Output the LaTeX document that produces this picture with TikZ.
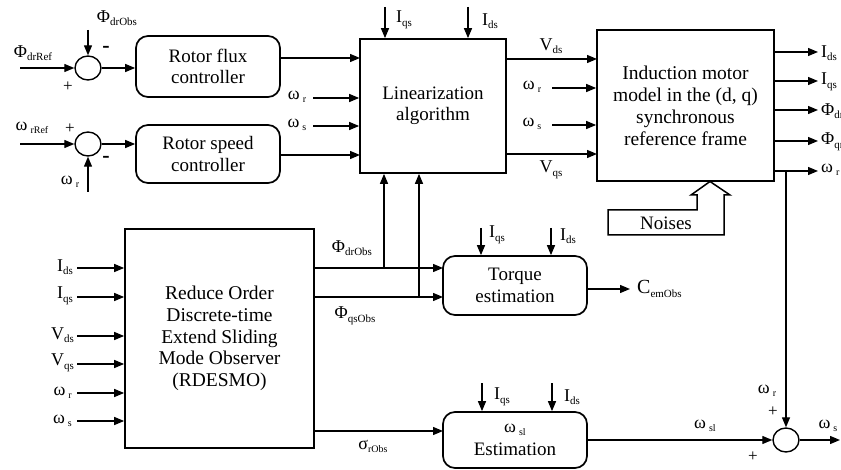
\documentclass[tikz,border=0pt]{standalone}
\usepackage{fontspec}
\setmainfont{Liberation Serif}
\usetikzlibrary{arrows.meta,shapes.geometric}
\newcommand{\sbx}[2]{#1\raisebox{-3.5pt}{\fontsize{11}{11}\selectfont #2}}
\newcommand{\om}[1]{{\fontsize{18}{18}\selectfont ω\,\raisebox{-3pt}{\fontsize{10}{10}\selectfont #1}}}
\begin{document}
\begin{tikzpicture}[x=1pt,y=-1pt,
  box/.style={draw, line width=1.7pt, align=center, inner sep=0pt, font=\fontsize{19}{21.5}\selectfont},
  rbox/.style={box, rounded corners=12pt},
  sumc/.style={draw, ellipse, line width=1.4pt, minimum width=26pt, minimum height=24pt, inner sep=0pt},
  arr/.style={line width=1.3pt, -{Triangle[length=10pt,width=8pt]}},
  wire/.style={line width=1.3pt},
  lab/.style={inner sep=0pt, font=\fontsize{18}{18}\selectfont},
  sgn/.style={inner sep=0pt, font=\fontsize{17}{17}\selectfont},
  mns/.style={inner sep=0pt, font=\fontsize{22}{22}\selectfont\bfseries}]
\clip (0,0) rectangle (841,470);

% ---------- blocks ----------
\node[sumc] (s1) at (88,68) {};
\node[sumc] (s2) at (88,144) {};
\node[sumc] (s3) at (786,440) {};
\node[rbox, minimum width=144pt, minimum height=61pt] (flux) at (208,66.5) {Rotor flux\\controller};
\node[rbox, minimum width=144pt, minimum height=58pt] (speed) at (208,154) {Rotor speed\\controller};
\node[box, minimum width=146pt, minimum height=134pt] (lin) at (433,106) {Linearization\\algorithm};
\node[box, minimum width=177pt, minimum height=151pt, font=\fontsize{19.5}{22}\selectfont] (mot) at (685.5,105.5)
  {Induction motor\\model in the (d, q)\\synchronous\\reference frame};
\node[box, minimum width=189pt, minimum height=219pt, font=\fontsize{19.5}{21.7}\selectfont] (rd) at (219.5,338.5)
  {Reduce Order\\Discrete-time\\Extend Sliding\\Mode Observer\\(RDESMO)};
\node[rbox, minimum width=144pt, minimum height=59pt] (tq) at (515,285.5) {Torque\\estimation};
\node[rbox, minimum width=144pt, minimum height=56pt] (wb) at (515,440) {\om{sl}\\[1pt]Estimation};

% Noises block arrow
\draw[line width=1.5pt, line join=miter] (608,235) -- (608,210) -- (697,210) -- (697,195) -- (691,195)
  -- (710,181.5) -- (730,195) -- (724,195) -- (724,235) -- cycle;
\node[inner sep=0pt, font=\fontsize{19}{19}\selectfont] (noise) at (666,223) {Noises};

% ---------- left summing junctions ----------
\coordinate (a1) at (20,68);
\coordinate (a2) at (88,30);
\draw[arr] (a1) -- (s1.west);
\draw[arr] (a2) -- (s1.north);
\draw[arr] (s1.east) -- (s1.east -| flux.west);
\coordinate (b1) at (20,144);
\coordinate (b2) at (88,192);
\draw[arr] (b1) -- (s2.west);
\draw[arr] (b2) -- (s2.south);
\draw[arr] (s2.east) -- (s2.east -| speed.west);

\node[lab] (lPdrRef) at (33,53) {\sbx{Φ}{drRef}};
\node[lab] (lPdrObsT) at (117,18) {\sbx{Φ}{drObs}};
\node[mns] (m1) at (106,49) {-};
\node[sgn] (p1) at (68,87) {+};
\node[lab] (lwrRef) at (32,128) {\om{rRef}};
\node[sgn] (p2) at (70,129) {+};
\node[mns] (m2) at (106,159) {-};
\node[lab] (lwrB) at (70,182) {\om{r}};

% ---------- into linearization ----------
\coordinate (L1) at (360,58);
\coordinate (L4) at (360,155);
\draw[arr] (flux.east |- L1) -- (L1);
\draw[arr] (speed.east |- L4) -- (L4);
\coordinate (L2s) at (313,98);
\coordinate (L3s) at (313,126);
\draw[arr] (L2s) -- (L2s -| lin.west);
\draw[arr] (L3s) -- (L3s -| lin.west);
\node[lab] (lwrL) at (297,97) {\om{r}};
\node[lab] (lwsL) at (297,125) {\om{s}};
\coordinate (t1) at (385,7);
\coordinate (t2) at (468,7);
\draw[arr] (t1) -- (t1 |- lin.north);
\draw[arr] (t2) -- (t2 |- lin.north);
\node[lab] (lIqsT) at (404,20) {\sbx{I}{qs}};
\node[lab] (lIdsT) at (490,21) {\sbx{I}{ds}};

% ---------- into motor ----------
\coordinate (M1) at (597,59);
\coordinate (M4) at (597,154);
\draw[arr] (lin.east |- M1) -- (M1);
\draw[arr] (lin.east |- M4) -- (M4);
\coordinate (M2s) at (552,88);
\coordinate (M3s) at (552,125);
\draw[arr] (M2s) -- (M2s -| mot.west);
\draw[arr] (M3s) -- (M3s -| mot.west);
\node[lab] (lVds) at (551,46) {\sbx{V}{ds}};
\node[lab] (lVqs) at (551,170) {\sbx{V}{qs}};
\node[lab] (lwrM) at (532,87) {\om{r}};
\node[lab] (lwsM) at (532,124) {\om{s}};

% ---------- motor outputs ----------
\coordinate (o1) at (818,52);
\coordinate (o2) at (818,81);
\coordinate (o3) at (818,110);
\coordinate (o4) at (818,141);
\coordinate (o5) at (818,171);
\foreach \o in {o1,o2,o3,o4,o5} \draw[arr] (mot.east |- \o) -- (\o);
\node[lab, anchor=west] (lo1) at (821,53) {\sbx{I}{ds}};
\node[lab, anchor=west] (lo2) at (821,82) {\sbx{I}{qs}};
\node[lab, anchor=west] (lo3) at (821,111) {\sbx{Φ}{dr}};
\node[lab, anchor=west] (lo4) at (821,142) {\sbx{Φ}{qr}};
\node[lab, anchor=west] (lo5) at (821,170) {\om{r}};
\coordinate (br) at (786,171);
\draw[arr] (br) -- (s3.north);

% ---------- RDESMO inputs ----------
\foreach \y/\n in {268/r1,297/r2,336/r3,364/r4,393/r5,421/r6} {
  \coordinate (\n) at (77,\y);
  \draw[arr] (\n) -- (\n -| rd.west);
}
\node[lab, anchor=east] (lIdsR) at (73,267) {\sbx{I}{ds}};
\node[lab, anchor=east] (lIqsR) at (73,296) {\sbx{I}{qs}};
\node[lab, anchor=east] (lVdsR) at (74,335) {\sbx{V}{ds}};
\node[lab, anchor=east] (lVqsR) at (74,363) {\sbx{V}{qs}};
\node[lab, anchor=east] (lwrR) at (72,393) {\om{r}};
\node[lab, anchor=east] (lwsR) at (72,421) {\om{s}};

% ---------- RDESMO outputs ----------
\coordinate (q1) at (443,268);
\coordinate (q2) at (443,297);
\draw[arr] (rd.east |- q1) -- (q1);
\draw[arr] (rd.east |- q2) -- (q2);
\coordinate (j1) at (384,268);
\coordinate (j2) at (419,297);
\draw[arr] (j1) -- (j1 |- lin.south);
\draw[arr] (j2) -- (j2 |- lin.south);
\coordinate (q3) at (443,431);
\draw[arr] (rd.east |- q3) -- (q3);
\node[lab] (lPdrObs) at (352,248) {\sbx{Φ}{drObs}};
\node[lab] (lPqsObs) at (355,316) {\sbx{Φ}{qsObs}};
\node[lab] (lsig) at (373,446) {{\fontsize{18}{18}\selectfont σ}\raisebox{-3pt}{\fontsize{10}{10}\selectfont rObs}};

% ---------- torque estimation ----------
\coordinate (u1) at (481,228);
\coordinate (u2) at (551,228);
\draw[arr] (u1) -- (u1 |- tq.north);
\draw[arr] (u2) -- (u2 |- tq.north);
\node[lab] (lIqsTq) at (497,235) {\sbx{I}{qs}};
\node[lab] (lIdsTq) at (568,236) {\sbx{I}{ds}};
\coordinate (c1) at (630,289);
\draw[arr] (tq.east |- c1) -- (c1);
\node[lab, anchor=west, font=\fontsize{20}{20}\selectfont] (lCem) at (637,289) {\sbx{C}{emObs}};

% ---------- slip estimation ----------
\coordinate (v1) at (482,383);
\coordinate (v2) at (552,383);
\draw[arr] (v1) -- (v1 |- wb.north);
\draw[arr] (v2) -- (v2 |- wb.north);
\node[lab] (lIqsW) at (502,397) {\sbx{I}{qs}};
\node[lab] (lIdsW) at (572,397) {\sbx{I}{ds}};
\draw[arr] (wb.east |- s3.west) -- (s3.west);
\coordinate (wout) at (840,440);
\draw[arr] (s3.east) -- (wout);
\node[lab] (lwsl) at (705,426) {\om{sl}};
\node[lab] (lwr3) at (767,391) {\om{r}};
\node[sgn] (p3) at (773,412) {+};
\node[sgn] (p4) at (753,457) {+};
\node[lab] (lws3) at (828,426) {\om{s}};
\end{tikzpicture}
\end{document}
